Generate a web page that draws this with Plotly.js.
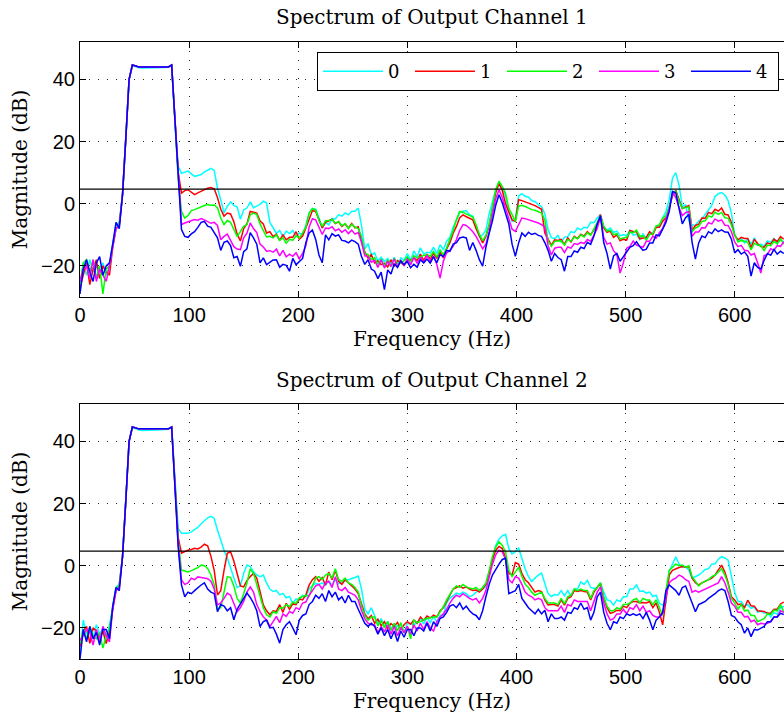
<!DOCTYPE html>
<html>
<head>
<meta charset="utf-8">
<script src="https://cdn.plot.ly/plotly-3.0.1.min.js"></script>
<style>
html, body { margin: 0; padding: 0; overflow: hidden; background: #fff; }
#chart { width: 800px; height: 715px; }
</style>
</head>
<body>
<div id="chart"></div>
<script>
// Frequency grid (Hz)
const freq = [0,3,6,9,12,15,18,21,24,27,30,33,36,39,42,45,48,51,54,57,60,63,66,69,72,75,78,81,84,87,90,93,96,99,102,105,108,111,114,117,120,123,126,129,132,135,138,141,144,147,150,153,156,159,162,165,168,171,174,177,180,183,186,189,192,195,198,201,204,207,210,213,216,219,222,225,228,231,234,237,240,243,246,249,252,255,258,261,264,267,270,273,276,279,282,285,288,291,294,297,300,303,306,309,312,315,318,321,324,327,330,333,336,339,342,345,348,351,354,357,360,363,366,369,372,375,378,381,384,387,390,393,396,399,402,405,408,411,414,417,420,423,426,429,432,435,438,441,444,447,450,453,456,459,462,465,468,471,474,477,480,483,486,489,492,495,498,501,504,507,510,513,516,519,522,525,528,531,534,537,540,543,546,549,552,555,558,561,564,567,570,573,576,579,582,585,588,591,594,597,600,603,606,609,612,615,618,621,624,627,630,633,636,639,642,645];

const seriesNames = ['0', '1', '2', '3', '4'];
const seriesColors = ['#00ffff', '#ff0000', '#00ff00', '#ff00ff', '#0000ff'];
const thresholdLevel = 4.7;
const titles = ['Spectrum of Output Channel 1', 'Spectrum of Output Channel 2'];

// ---- Output Channel 1 (dB) ----
const ch1_s0 = [-28,-19,-23,-18,-22,-20,-24,-19,-23,-20,
-13,-7,-6,3,21,40,44.5,44.0,43.7,43.6,
43.6,43.6,43.6,43.6,43.7,43.7,43.8,43.9,44.5,27,
12,9.8,10.2,10.5,9.6,8.8,9.1,9.4,10.2,10.8,
11.4,10.7,5,1.2,-3,-0.8,0.6,-0.6,-1.0,-5.0,
-2.0,-1.4,0.6,-1.3,-0.8,-0.2,0.8,0.2,-6,-8.0,
-9.5,-8.6,-10.6,-8.8,-9.6,-8.6,-10.4,-9.4,-10.0,-7.0,
-3,-1.5,-1.8,-4.5,-7.8,-6.0,-6.8,-4.8,-4.9,-3.5,
-4.0,-3.0,-3.6,-2.4,-2.4,-1.4,-7,-14.5,-12.8,-16.5,
-15.8,-18.4,-17.2,-18.6,-17.6,-19.4,-17.2,-20.0,-17.4,-18.2,
-16.0,-18.2,-15.2,-17.0,-14.2,-16.2,-15.6,-15.8,-14.0,-16.0,
-13.2,-14.8,-12.0,-10.8,-7.6,-5.4,-2.8,-2.4,-2.2,-3.5,
-4,-7.3,-10.5,-10,-8.5,-3.2,0.5,4.5,7.0,5.2,
2.5,-3,-5.7,-5,2.5,3.2,2.4,2.1,1.0,0.7,
-0.3,-1.0,-3.2,-8.3,-10.9,-11.2,-10.2,-12.3,-10.8,-10.6,
-9.0,-9.3,-7.8,-8.4,-7.6,-7.8,-6.0,-6.1,-4.6,-3.5,
-7.5,-8.5,-7.8,-9.2,-8.8,-10.3,-10.0,-10.3,-8.6,-10.1,
-9.8,-11.5,-9.7,-11.3,-9.4,-9.5,-7.4,-7.2,-4.5,-2.5,
1.3,8.2,10.0,6.0,-0.9,-0.4,-5.5,-6.8,-7.0,-5.6,
-4.9,-3.5,-2,-0.5,2.3,3.2,3.6,2.8,1.0,-3.0,
-10,-11.8,-11.2,-12.6,-11.2,-13.0,-11.0,-13.4,-13.0,-13.6,
-12.0,-12.4,-11.2,-12.8,-11.3,-12.6];

const ch1_s1 = [-27,-23,-19,-26,-21,-18,-24,-20,-22,-23,
-14,-8,-7,3,21,40,44.6,44.2,44.0,44.0,
44.0,44.0,44.0,44.0,44.0,43.9,44.0,44.0,44.6,27,
10,3.4,4.2,4.5,3.6,2.9,3.5,4.0,4.5,5.0,
5.2,4.8,2.0,-1.8,-4.0,-3.0,-3.3,-5.8,-9.8,-12.0,
-8.0,-6.5,-2.5,-2.8,-3.0,-5.6,-6.5,-9.4,-9.0,-10.6,
-9.8,-11.8,-10.0,-11.6,-10.8,-10.8,-9.0,-11.4,-10.4,-7.8,
-5.1,-2.2,-2.5,-5.5,-7.8,-6.0,-5.6,-5.0,-6.4,-5.8,
-7.3,-6.5,-7.8,-6.4,-7.8,-7.4,-12,-15.5,-17.5,-16.4,
-19.0,-18.4,-19.6,-19.2,-20.3,-18.0,-20.2,-18.3,-18.9,-19.8,
-18.0,-18.2,-17.4,-18.2,-16.2,-18.3,-16.2,-17.9,-15.9,-17.6,
-15.6,-17.4,-14.5,-12.5,-9.5,-7.3,-4.5,-3.6,-4.2,-4.6,
-5.2,-8,-10.5,-12.6,-10.5,-7,-1.5,3.5,6.5,4.3,
0,-2.5,-5.2,-5.7,1.3,1.0,0.6,0.3,-0.2,-0.6,
-1.2,-1.8,-9.4,-11.5,-13.4,-11.6,-11.8,-11.5,-13.1,-11.0,
-12.3,-10.5,-11.2,-9.8,-10.4,-9.0,-10.0,-8.4,-6.5,-3.5,
-7.8,-9.2,-8.8,-10.8,-10.0,-11.9,-11.4,-11.7,-8.6,-8.9,
-9.0,-11.3,-11.0,-10.8,-9.0,-10.0,-7.6,-7.6,-5.6,-4.5,
-1.2,2.5,4.3,1.0,-1.6,-1.0,-0.6,-8.5,-7.0,-6.6,
-4.6,-4.7,-2.8,-3.2,-1.8,-2.4,-1.4,-3.4,-3.6,-6.0,
-10.2,-11.6,-10.8,-11.2,-11.2,-14.2,-11.4,-12.8,-13.8,-14.0,
-12.6,-13.0,-11.4,-12.2,-10.6,-11.4];

const ch1_s2 = [-26,-19,-18,-22,-18,-24,-20,-29,-21,-20,
-13,-8,-6.5,3,21,40,44.6,44.2,44.0,44.0,
44.0,44.0,44.0,44.0,44.0,43.9,44.0,44.0,44.6,27,
8,-2.5,-4.6,-3.8,-2.2,-1.9,-1.4,-1.0,-0.6,-0.3,
-0.5,-0.4,-1.3,-4.6,-6.7,-5.4,-6.0,-8.3,-10.5,-9.0,
-7.3,-6.7,-3.6,-3.0,-3.5,-6.5,-8.9,-10.7,-10.5,-11.0,
-10.0,-11.8,-11.0,-12.7,-11.4,-11.8,-10.3,-11.0,-9.4,-7.5,
-3.0,-1.6,-2.0,-5.4,-7.3,-5.5,-5.4,-5.1,-6.3,-5.7,
-7.1,-6.4,-8.0,-6.6,-7.5,-8.0,-10.5,-16,-16.3,-18.0,
-17.3,-19.5,-17.8,-19.9,-18.1,-20.3,-17.6,-19.2,-19.0,-18.4,
-17.1,-18.8,-16.7,-17.4,-17.1,-16.6,-16.5,-16.9,-15.4,-17.1,
-14.9,-16.4,-14.2,-11.5,-8.6,-5.1,-2.5,-2.8,-3.3,-3.8,
-4.3,-6.8,-9.8,-11.9,-10.2,-6.6,-0.5,4.5,7.2,5.6,
3.3,-1.5,-3.5,-5.7,-0.8,-0.5,-0.9,-1.5,-1.9,-2.1,
-2.6,-3.0,-5.2,-12.0,-13.7,-12.1,-12.0,-11.9,-13.3,-11.5,
-12.1,-10.7,-11.3,-10.0,-10.7,-9.3,-10.2,-8.1,-6.2,-4.0,
-7.2,-8.8,-8.5,-10.0,-9.6,-11.4,-11.0,-10.8,-9.1,-9.3,
-8.5,-10.5,-10.3,-11.7,-9.9,-9.7,-7.1,-6.8,-4.7,-3.8,
-1.0,3.5,4.0,0.8,-1.5,-1.2,-1.0,-9.0,-7.8,-7.3,
-5.7,-5.5,-3.9,-4.3,-2.7,-3.4,-2.8,-4.5,-4.7,-6.9,
-10.0,-12.3,-11.8,-12.1,-12.4,-14.9,-12.7,-13.3,-13.5,-15.1,
-13.3,-13.5,-12.1,-12.9,-11.4,-13.0];

const ch1_s3 = [-25,-21,-20,-24,-18,-25,-21,-23,-25,-20,
-14,-8,-7,3,21,40,44.6,44.2,44.0,44.0,
44.0,44.0,44.0,44.0,44.0,43.9,44.0,44.0,44.6,27,
7,-6.7,-6.2,-5.8,-5.5,-5.1,-5.3,-4.8,-5.2,-5.8,
-6.3,-6.0,-7.0,-11.6,-10.5,-9.8,-11.6,-13.8,-14.6,-14.8,
-11.0,-9.5,-6.2,-8.0,-9.3,-13.0,-13.9,-15.3,-15.1,-15.6,
-14.6,-16.8,-15.0,-17.1,-16.2,-16.9,-15.8,-17.7,-16.0,-13.5,
-7.5,-4.8,-5.2,-7.5,-9.9,-7.8,-8.0,-7.4,-8.7,-8.1,
-9.2,-8.4,-9.6,-8.5,-9.8,-9.3,-12.4,-16.8,-17.0,-18.8,
-18.2,-20.5,-18.0,-20.7,-18.6,-20.1,-17.8,-20.4,-18.1,-20.0,
-17.7,-19.6,-17.3,-19.2,-17.2,-19.0,-16.6,-18.7,-16.8,-19.5,
-23.9,-18.5,-15.8,-15.0,-13.7,-11.5,-8.6,-6.7,-7.0,-7.9,
-9.0,-10.5,-12.5,-14.5,-13.0,-9.0,-3.5,1.5,4.5,2.0,
-1.5,-4.5,-8.2,-8.9,-6.5,-4.6,-4.8,-5.1,-5.5,-5.9,
-6.2,-6.7,-7.5,-13.5,-16.5,-14.3,-14.0,-14.0,-15.7,-13.9,
-14.3,-12.8,-13.1,-12.4,-12.8,-11.5,-12.1,-10.1,-8.0,-4.2,
-10.8,-13.0,-12.6,-15.1,-16.4,-22.3,-19.0,-14.3,-13.7,-12.0,
-13.3,-13.7,-14.0,-12.1,-12.1,-10.5,-11.1,-9.3,-8.0,-5.0,
-1.8,3.6,2.0,-1.2,-3.8,-2.9,-2.5,-10.5,-9.1,-9.1,
-7.7,-7.8,-6.1,-6.5,-4.9,-5.6,-5.2,-6.9,-7.0,-9.0,
-12.3,-13.8,-13.4,-15.0,-15.1,-16.5,-16.0,-19.0,-22.3,-16.7,
-16.3,-14.5,-15.0,-13.5,-13.7,-12.2];

const ch1_s4 = [-29,-21,-18,-22,-25,-19,-17,-23,-20,-19,
-13,-6,-8,3,21,40,44.6,44.2,44.0,44.0,
44.0,44.0,44.0,44.0,44.0,43.9,44.0,44.0,44.6,27,
6,-8.3,-10.5,-10.8,-9.7,-9.0,-7.6,-6.0,-5.7,-7.2,
-7.6,-9.4,-11.0,-15.0,-12.4,-12.0,-13.5,-17.4,-17.0,-20.1,
-15.4,-14.5,-9.3,-11.0,-13.0,-19.0,-17.4,-19.6,-18.8,-18.1,
-18.0,-20.4,-19.5,-19.8,-21.7,-17.6,-19.6,-18.7,-17.6,-12.5,
-9.4,-8.5,-11.5,-16.5,-19.0,-10.0,-11.6,-9.6,-10.4,-10.0,
-11.8,-12.0,-12.6,-11.7,-12.2,-13.0,-17.0,-19.5,-18.0,-21.0,
-21.7,-24.1,-22.0,-27.6,-21.3,-22.6,-19.3,-20.5,-18.4,-19.6,
-18.6,-20.6,-19.5,-20.4,-18.0,-19.0,-17.8,-19.1,-17.0,-19.0,
-16.4,-17.0,-15.0,-15.3,-13.0,-12.5,-11.0,-10.7,-11.0,-15.0,
-12.5,-15.0,-18.0,-20.1,-14.0,-9.5,-5.5,-0.5,2.9,0.3,
-3.5,-6.5,-13.0,-16.9,-12.6,-9.4,-10.5,-9.2,-9.9,-9.5,
-10.2,-10.5,-12.5,-15.0,-18.5,-16.0,-17.3,-18.0,-21.7,-17.0,
-17.0,-15.2,-15.6,-14.0,-14.4,-12.4,-13.1,-10.4,-6.5,-4.0,
-12.5,-16.0,-21.0,-16.8,-16.0,-18.5,-17.0,-15.5,-14.0,-13.5,
-12.2,-13.8,-15.0,-14.6,-12.6,-12.6,-10.0,-10.3,-8.0,-6.0,
-2.5,4.0,3.5,-1.0,-6.5,-4.5,-3.5,-12.5,-17.8,-12.6,
-10.4,-10.9,-9.0,-9.6,-8.1,-9.0,-8.4,-9.1,-9.2,-11.4,
-15.8,-14.8,-16.2,-15.5,-16.9,-23.3,-19.0,-20.5,-21.0,-18.2,
-16.0,-16.6,-14.7,-16.2,-15.3,-16.0];

// ---- Output Channel 2 (dB) ----
const ch2_s0 = [-29,-17.5,-22,-21,-23,-19,-22,-20,-24,-19,
-14,-7,-6,3,21,40,44.5,44.0,43.6,43.5,
43.5,43.5,43.6,43.6,43.6,43.7,43.8,43.9,44.5,27,
12,10.4,10.3,10.4,10.9,11.6,12.3,13.5,14.5,15.4,
15.9,15.2,11.5,8.0,5.0,2.5,-0.5,-3.5,-7.0,-6.5,
-2.5,0.2,-0.3,-1.9,-3.0,-3.5,-3.0,-5.5,-7.5,-8.3,
-8.0,-9.4,-8.9,-10.3,-9.9,-12.1,-10.7,-11.0,-9.5,-10.0,
-7.3,-6.5,-5.7,-6.0,-5.5,-6.3,-5.0,-6.2,-4.5,-5.8,
-5.2,-4.8,-4.5,-4.2,-3.8,-3.3,-7.5,-14.0,-15.5,-13.5,
-16.0,-18.7,-17.0,-19.5,-17.9,-20.1,-19.8,-19.3,-19.0,-21.5,
-18.5,-18.7,-18.9,-18.5,-17.0,-18.8,-16.7,-18.3,-16.4,-18.0,
-16.0,-15.8,-12.0,-10.5,-9.5,-8.8,-9.2,-8.5,-9.0,-10.0,
-9.5,-8.5,-8.0,-7.5,-6.8,-3.0,2.0,6.5,8.5,9.6,
10.1,5.5,3.8,4.5,5.6,2.0,-1.0,-3.5,-5.1,-4.0,
-3.0,-2.4,-5.5,-9.0,-9.9,-9.3,-9.5,-8.0,-9.7,-8.0,
-9.9,-7.5,-7.5,-5.2,-6.0,-4.7,-7.0,-7.3,-7.0,-5.5,
-8.5,-11.0,-11.3,-12.6,-11.0,-11.5,-10.0,-10.0,-7.5,-7.5,
-6.2,-8.3,-8.1,-8.8,-8.5,-9.9,-9.5,-12.1,-12.7,-12.0,
-1.9,0.8,2.9,0.5,-0.5,-0.3,-1.5,-4.0,-3.6,-3.0,
-2.2,-1.2,-1.0,0.5,0.6,2.1,2.9,2.5,1.8,-4.0,
-8.5,-11.5,-11.5,-13.1,-12.5,-13.7,-13.3,-15.0,-14.5,-15.3,
-15.0,-16.5,-15.1,-15.6,-13.5,-13.1];

const ch2_s1 = [-26,-21,-19.5,-25,-20,-21,-23,-21,-25,-21,
-14,-8,-6.5,3,21,40,44.6,44.3,44.0,44.0,
44.0,44.0,44.0,44.0,44.0,43.9,44.0,44.0,44.6,27,
9,4.0,4.6,5.0,5.2,5.6,5.4,6.0,6.9,6.4,
3.0,-1.5,-9.4,-8.0,-1.5,4.0,4.5,1.5,-2.5,-6.5,
-6.8,-4.8,-3.5,-2.5,-4.0,-8.0,-12.6,-14.5,-15.8,-14.5,
-14.7,-12.5,-15.0,-12.1,-14.0,-12.3,-12.5,-10.7,-11.0,-9.4,
-6.2,-4.5,-3.5,-5.0,-3.8,-6.2,-2.0,-4.5,-1.5,-5.0,
-6.0,-4.5,-5.5,-6.5,-7.5,-9.0,-12.5,-15.5,-17.0,-16.0,
-18.5,-17.2,-19.3,-18.0,-20.1,-18.6,-19.5,-18.2,-20.5,-19.0,
-18.0,-18.8,-17.5,-18.5,-16.5,-17.6,-16.2,-16.8,-15.9,-16.5,
-14.5,-13.5,-11.5,-9.5,-7.5,-7.0,-6.5,-7.2,-6.8,-7.5,
-8.0,-7.8,-8.5,-7.5,-6.0,-2.5,2.0,5.0,6.2,5.5,
2.5,-2.5,-3.0,1.0,0.5,-2.5,-4.5,-5.5,-7.2,-8.5,
-8.0,-8.3,-11.0,-12.6,-12.5,-12.5,-13.0,-11.0,-12.7,-10.5,
-10.0,-8.0,-8.3,-8.0,-8.3,-8.5,-11.0,-8.5,-7.0,-5.7,
-10.5,-13.5,-15.3,-15.0,-14.3,-14.5,-13.0,-13.5,-12.1,-11.5,
-11.5,-12.0,-11.8,-12.0,-11.5,-13.5,-12.0,-15.0,-19.0,-10.0,
-3.0,-1.5,-1.0,-0.6,-0.3,-0.5,-0.3,-4.0,-5.5,-6.2,
-5.5,-5.0,-4.3,-4.0,-3.0,-1.5,0.2,-2.0,-5.5,-10.0,
-11.0,-12.5,-12.3,-13.5,-11.1,-12.9,-13.0,-14.5,-14.5,-14.7,
-15.3,-15.3,-14.0,-14.0,-12.3,-11.7];

const ch2_s2 = [-25,-20.5,-23.5,-19.5,-22.5,-23.5,-21.5,-26.5,-22.5,-20.5,
-13,-7.5,-6,3,21,40,44.6,44.3,44.0,44.0,
44.0,44.0,44.0,44.0,44.0,43.9,44.0,44.0,44.6,27,
8,-1.4,-1.8,-2.0,-1.6,-1.2,-0.6,0.2,0.0,-0.9,
-3.0,-6.2,-14.0,-13.5,-8.5,-3.5,-3.8,-6.5,-10.5,-12.0,
-9.0,-5.5,-1.0,-2.5,-6.0,-9.5,-13.5,-15.8,-16.5,-14.8,
-15.3,-13.5,-13.6,-12.5,-13.1,-11.7,-12.1,-10.3,-9.9,-9.5,
-9.8,-6.5,-4.0,-3.5,-4.5,-3.0,-2.5,-4.0,-1.0,-4.5,
-5.0,-4.0,-5.5,-6.0,-7.0,-8.5,-13.0,-16.0,-17.5,-16.5,
-16.5,-19.3,-17.7,-20.0,-18.0,-20.8,-18.5,-21.0,-18.3,-21.5,
-19.5,-23.5,-17.5,-18.3,-18.0,-17.3,-17.0,-16.7,-16.5,-16.5,
-14.8,-13.2,-11.0,-9.0,-7.5,-6.5,-7.0,-6.0,-6.8,-7.2,
-7.5,-7.0,-8.0,-7.0,-5.5,-1.5,3.0,6.0,7.7,6.5,
4.5,-1.5,-3.5,-2.0,-0.5,-3.5,-6.0,-7.0,-8.5,-9.5,
-9.0,-8.5,-10.5,-12.0,-12.0,-12.0,-12.5,-10.5,-12.3,-10.0,
-9.5,-7.5,-8.0,-7.5,-8.0,-8.0,-10.5,-8.0,-7.0,-5.5,
-10.0,-13.0,-14.5,-14.5,-13.5,-14.0,-12.5,-12.5,-12.0,-11.0,
-10.5,-12.0,-10.5,-11.0,-11.0,-12.5,-11.0,-13.5,-16.0,-8.0,
-1.5,-0.5,0.5,0.0,0.2,-0.5,0.0,-3.5,-5.0,-6.5,
-5.5,-5.0,-4.5,-3.5,-3.0,-2.0,-1.0,-3.0,-6.0,-10.5,
-12.0,-14.0,-12.5,-14.5,-14.3,-16.0,-16.0,-18.0,-17.5,-17.0,
-15.5,-15.7,-14.3,-14.5,-12.5,-15.0];

const ch2_s3 = [-24,-22.5,-20.5,-21.5,-25.5,-20.5,-24.5,-19.5,-22.5,-24.5,
-14,-8,-7,3,21,40,44.6,44.3,44.0,44.0,
44.0,44.0,44.0,44.0,44.0,43.9,44.0,44.0,44.6,27,
7,-4.6,-6.0,-5.5,-4.0,-4.5,-3.6,-3.8,-4.0,-4.2,
-5.0,-7.5,-12.6,-12.0,-10.5,-8.8,-9.5,-12.0,-14.8,-13.5,
-11.5,-8.5,-6.8,-8.5,-12.5,-14.8,-16.4,-17.5,-19.6,-18.0,
-16.3,-18.3,-15.5,-16.3,-14.7,-15.3,-13.5,-14.1,-12.0,-11.7,
-9.5,-8.0,-6.5,-6.0,-7.5,-5.5,-5.0,-7.0,-3.5,-7.5,
-8.0,-7.0,-8.5,-9.0,-9.5,-11.0,-14.5,-17.0,-18.5,-19.0,
-19.0,-21.5,-19.5,-21.3,-19.0,-22.0,-19.5,-22.5,-20.0,-21.5,
-19.5,-22.0,-19.0,-21.0,-18.5,-20.5,-18.0,-20.0,-21.0,-18.0,
-16.5,-15.5,-14.0,-12.0,-10.5,-9.5,-10.0,-9.0,-9.8,-10.5,
-11.0,-10.5,-12.0,-10.5,-8.0,-4.0,0.5,3.5,5.0,4.5,
2.0,-4.5,-5.5,-3.5,-4.0,-6.0,-8.5,-9.5,-10.0,-11.0,
-10.5,-11.0,-13.5,-14.5,-14.5,-14.3,-14.5,-13.0,-15.0,-12.5,
-13.0,-11.0,-11.5,-11.5,-11.5,-11.5,-14.5,-11.5,-8.5,-6.8,
-12.0,-15.5,-17.5,-17.0,-15.5,-15.5,-14.0,-15.5,-13.5,-14.0,
-12.5,-14.5,-13.0,-15.0,-14.5,-16.0,-16.5,-16.5,-15.5,-10.0,
-5.5,-4.5,-4.0,-3.0,-3.5,-4.5,-5.0,-8.5,-8.0,-8.5,
-8.0,-7.5,-7.0,-6.5,-6.0,-5.5,-3.5,-5.5,-8.5,-12.0,
-13.0,-15.0,-15.0,-16.5,-16.3,-18.0,-17.5,-19.0,-18.5,-18.7,
-18.5,-18.0,-16.5,-16.5,-14.5,-15.0];

const ch2_s4 = [-30,-20.5,-24.5,-19.5,-23.5,-21.5,-25.5,-20.5,-20.5,-23.5,
-13,-7,-8,3,21,40,44.6,44.3,44.0,44.0,
44.0,44.0,44.0,44.0,44.0,43.9,44.0,44.0,44.6,27,
6,-6.2,-10.0,-8.5,-9.0,-8.0,-7.0,-6.2,-5.5,-7.5,
-8.5,-9.0,-14.8,-12.5,-13.0,-14.5,-13.5,-17.4,-14.0,-12.0,
-10.5,-8.8,-10.2,-12.0,-14.5,-19.6,-18.0,-17.5,-20.0,-19.8,
-22.0,-24.9,-20.5,-19.0,-18.0,-20.0,-22.2,-17.5,-16.0,-15.5,
-12.5,-11.5,-9.5,-10.5,-9.0,-11.5,-8.0,-10.0,-8.5,-11.0,
-10.0,-12.0,-9.5,-11.5,-11.5,-14.0,-16.0,-18.5,-19.5,-18.5,
-19.5,-22.0,-20.0,-22.5,-20.5,-23.5,-21.0,-24.4,-21.0,-23.0,
-20.5,-20.5,-22.5,-20.0,-20.0,-21.0,-18.5,-21.0,-18.0,-19.5,
-17.0,-16.5,-15.0,-13.0,-12.5,-13.5,-12.0,-14.0,-13.0,-14.5,
-15.5,-16.0,-17.4,-14.5,-10.0,-6.0,-3.0,-1.0,0.5,2.0,
2.4,-9.0,-8.5,-8.0,-6.0,-10.5,-12.0,-13.5,-14.5,-15.5,
-14.0,-15.5,-14.3,-18.0,-15.5,-17.0,-17.0,-16.5,-17.5,-15.0,
-15.3,-13.5,-14.0,-12.0,-14.0,-13.5,-17.5,-15.0,-10.0,-8.5,
-15.0,-18.5,-20.6,-18.0,-18.5,-16.5,-17.0,-15.5,-16.0,-15.5,
-16.0,-15.5,-17.0,-15.0,-17.5,-20.6,-17.5,-16.5,-15.0,-8.0,
-6.2,-7.0,-8.0,-9.5,-7.0,-6.5,-9.0,-12.0,-14.8,-12.5,
-12.0,-11.5,-10.5,-9.8,-9.0,-8.0,-7.5,-8.0,-11.5,-16.0,
-16.5,-18.0,-19.0,-21.7,-20.0,-22.8,-20.5,-20.7,-20.0,-19.5,
-18.0,-18.0,-16.5,-16.5,-15.3,-15.7];

const channel1 = [ch1_s0, ch1_s1, ch1_s2, ch1_s3, ch1_s4];
const channel2 = [ch2_s0, ch2_s1, ch2_s2, ch2_s3, ch2_s4];

const traces = [];
channel1.forEach((ys, k) => traces.push({
  x: freq, y: ys, type: 'scatter', mode: 'lines', name: seriesNames[k],
  line: {color: seriesColors[k], width: 1.5}, xaxis: 'x', yaxis: 'y', showlegend: true
}));
channel2.forEach((ys, k) => traces.push({
  x: freq, y: ys, type: 'scatter', mode: 'lines', name: seriesNames[k],
  line: {color: seriesColors[k], width: 1.5}, xaxis: 'x2', yaxis: 'y2', showlegend: false
}));

const serif = 'DejaVu Serif, serif';
const sans = 'Liberation Sans, Arial, sans-serif';

function xAx(anchor) {
  return {
    anchor: anchor, domain: [0, 1], range: [0, 645.2], dtick: 100, tick0: 0,
    showline: true, linecolor: '#000', linewidth: 1, mirror: 'ticks',
    ticks: 'inside', ticklen: 6, tickcolor: '#000', tickwidth: 1,
    showgrid: true, gridcolor: 'rgba(0,0,0,0.85)', gridwidth: 1, griddash: '1px,8px',
    zeroline: false, automargin: false,
    tickfont: {family: sans, size: 20, color: '#000'},
    title: {text: 'Frequency (Hz)', font: {family: serif, size: 20, color: '#000'}, standoff: 6}
  };
}
function yAx(anchor, domain) {
  return {
    anchor: anchor, domain: domain, range: [-30, 52], dtick: 20, tick0: 0,
    showline: true, linecolor: '#000', linewidth: 1, mirror: 'ticks',
    ticks: 'inside', ticklen: 6, tickcolor: '#000', tickwidth: 1,
    showgrid: true, gridcolor: 'rgba(0,0,0,0.85)', gridwidth: 1, griddash: '1px,8px',
    zeroline: false, automargin: false,
    tickfont: {family: sans, size: 20, color: '#000'},
    title: {text: 'Magnitude (dB)', font: {family: serif, size: 20, color: '#000'}, standoff: 8}
  };
}

const layout = {
  width: 800, height: 715,
  margin: {l: 80, r: 16, t: 42, b: 56},
  paper_bgcolor: '#fff', plot_bgcolor: '#fff',
  showlegend: true,
  legend: {
    orientation: 'h', x: 0.3366, y: 0.9838, xanchor: 'left', yanchor: 'top',
    bgcolor: '#fff', bordercolor: '#000', borderwidth: 1,
    font: {family: serif, size: 18, color: '#000'},
    itemwidth: 60, entrywidth: 17
  },
  xaxis: xAx('y'),
  yaxis: yAx('x', [0.5867, 1]),
  xaxis2: xAx('y2'),
  yaxis2: yAx('x2', [0, 0.4133]),
  shapes: [
    {type: 'line', xref: 'x domain', x0: 0, x1: 1, yref: 'y', y0: thresholdLevel, y1: thresholdLevel, line: {color: '#000', width: 1.2}},
    {type: 'line', xref: 'x2 domain', x0: 0, x1: 1, yref: 'y2', y0: thresholdLevel, y1: thresholdLevel, line: {color: '#000', width: 1.2}}
  ],
  annotations: [
    {text: titles[0], xref: 'paper', yref: 'paper', x: 0.5, y: 1.0405, xanchor: 'center', yanchor: 'middle', showarrow: false, font: {family: serif, size: 20, color: '#000'}},
    {text: titles[1], xref: 'paper', yref: 'paper', x: 0.5, y: 0.4522, xanchor: 'center', yanchor: 'middle', showarrow: false, font: {family: serif, size: 20, color: '#000'}}
  ]
};

Plotly.newPlot('chart', traces, layout, {displayModeBar: false, staticPlot: true});
</script>
</body>
</html>
